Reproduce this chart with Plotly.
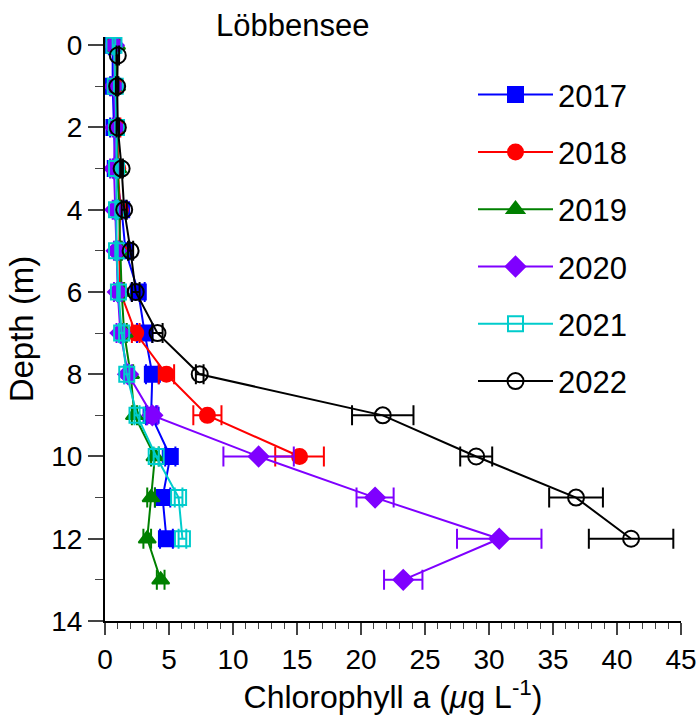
import plotly.graph_objects as go

years = ["2017", "2018", "2019", "2020", "2021", "2022"]

depth_2017 = [0, 1, 2, 3, 4, 5, 6, 7, 8, 9, 10, 11, 12]
chl_2017 = [0.6, 0.6, 0.7, 0.8, 1.3, 1.6, 2.6, 3.1, 3.7, 3.6, 5.1, 4.5, 4.8]
err_2017 = [0.3, 0.2, 0.3, 0.2, 0.3, 0.3, 0.5, 0.6, 0.5, 0.4, 0.4, 0.6, 0.5]

depth_2018 = [0, 1, 2, 3, 4, 5, 6, 7, 8, 9, 10]
chl_2018 = [0.7, 0.8, 1.0, 1.0, 1.2, 1.1, 1.2, 2.4, 4.8, 8.0, 15.2]
err_2018 = [0.1, 0.1, 0.2, 0.1, 0.1, 0.1, 0.2, 0.3, 0.6, 1.1, 1.9]

depth_2019 = [0, 1, 2, 3, 4, 5, 6, 7, 8, 9, 10, 11, 12, 13]
chl_2019 = [0.9, 0.9, 0.9, 1.0, 1.1, 1.2, 1.3, 1.5, 2.0, 2.3, 3.9, 3.6, 3.3, 4.35]
err_2019 = [0.1, 0.1, 0.1, 0.1, 0.1, 0.1, 0.2, 0.2, 0.2, 0.2, 0.3, 0.3, 0.3, 0.3]

depth_2020 = [0, 1, 2, 3, 4, 5, 6, 7, 8, 9, 10, 11, 12, 13]
chl_2020 = [0.7, 0.7, 0.8, 0.7, 0.8, 0.9, 1.0, 1.2, 1.8, 3.7, 12.0, 21.1, 30.8, 23.3]
err_2020 = [0.2, 0.2, 0.2, 0.3, 0.2, 0.2, 0.3, 0.3, 0.3, 0.4, 2.75, 1.45, 3.3, 1.5]

depth_2021 = [0, 1, 2, 3, 4, 5, 6, 7, 8, 9, 10, 11, 12]
chl_2021 = [0.7, 0.8, 0.9, 0.9, 0.9, 0.9, 1.05, 1.3, 1.7, 2.5, 4.0, 5.75, 6.05]
err_2021 = [0.1, 0.1, 0.1, 0.1, 0.1, 0.1, 0.1, 0.2, 0.2, 0.2, 0.2, 0.3, 0.3]

depth_2022 = [0.25, 1, 2, 3, 4, 5, 6, 7, 8, 9, 10, 11, 12]
chl_2022 = [1.0, 0.95, 1.0, 1.3, 1.5, 2.0, 2.4, 4.1, 7.4, 21.7, 29.0, 36.8, 41.1]
err_2022 = [0.1, 0.1, 0.1, 0.1, 0.2, 0.2, 0.3, 0.4, 0.3, 2.4, 1.25, 2.1, 3.3]

colors = ["#0000FF", "#FF0000", "#008000", "#7F00FF", "#00CCCC", "#000000"]
symbols = ["square", "circle", "triangle-up", "diamond", "square-open", "circle-open"]
sizes = [15, 15, 15, 15, 15, 16]

series = [
    (depth_2017, chl_2017, err_2017),
    (depth_2018, chl_2018, err_2018),
    (depth_2019, chl_2019, err_2019),
    (depth_2020, chl_2020, err_2020),
    (depth_2021, chl_2021, err_2021),
    (depth_2022, chl_2022, err_2022),
]

FONT = "Liberation Sans, Arial, Helvetica, sans-serif"

fig = go.Figure()
for i, (yr, (d, v, e)) in enumerate(zip(years, series)):
    fig.add_trace(go.Scatter(
        x=v, y=d, name=yr, mode="lines+markers",
        legendgroup=yr,
        line=dict(color=colors[i], width=2),
        marker=dict(symbol=symbols[i], size=sizes[i], color=colors[i],
                    line=dict(color=colors[i], width=2)),
        error_x=dict(type="data", array=e, visible=True, color=colors[i],
                     thickness=2, width=10),
    ))

fig.update_layout(
    width=699, height=718,
    margin=dict(l=105, r=18, t=37, b=97, autoexpand=False),
    paper_bgcolor="white", plot_bgcolor="white",
    font=dict(family=FONT, color="black", size=28),
    showlegend=True,
    legend=dict(x=(473 - 105) / 576, y=0.947, xanchor="left", yanchor="top",
                font=dict(size=31), tracegroupgap=14, itemwidth=75,
                bgcolor="rgba(0,0,0,0)"),
    annotations=[dict(text="Löbbensee", x=(292 - 105) / 576, xref="paper",
                      y=0.987, yref="paper",
                      xanchor="center", yanchor="bottom", showarrow=False,
                      font=dict(size=31))],
)

fig.update_xaxes(
    range=[0, 45], dtick=5, tick0=0, ticks="outside", ticklen=12, tickwidth=1.5,
    showline=True, linecolor="black", linewidth=2, showgrid=False, zeroline=False,
    automargin=False,
    minor=dict(dtick=1, ticks="outside", ticklen=6, tickwidth=1, showgrid=False),
    title=dict(text="Chlorophyll a (<i>μ</i>g L<sup>-1</sup>)", font=dict(size=32), standoff=10),
    tickfont=dict(size=28),
)
fig.update_yaxes(
    range=[14, -0.2], dtick=2, tick0=0, ticks="outside", ticklen=15, tickwidth=1.5,
    showline=True, linecolor="black", linewidth=2, showgrid=False, zeroline=False,
    automargin=False,
    minor=dict(dtick=1, ticks="outside", ticklen=8, tickwidth=1, showgrid=False),
    title=dict(text="Depth (m)", font=dict(size=33), standoff=8),
    tickfont=dict(size=28),
)

fig.write_html("out.html")
